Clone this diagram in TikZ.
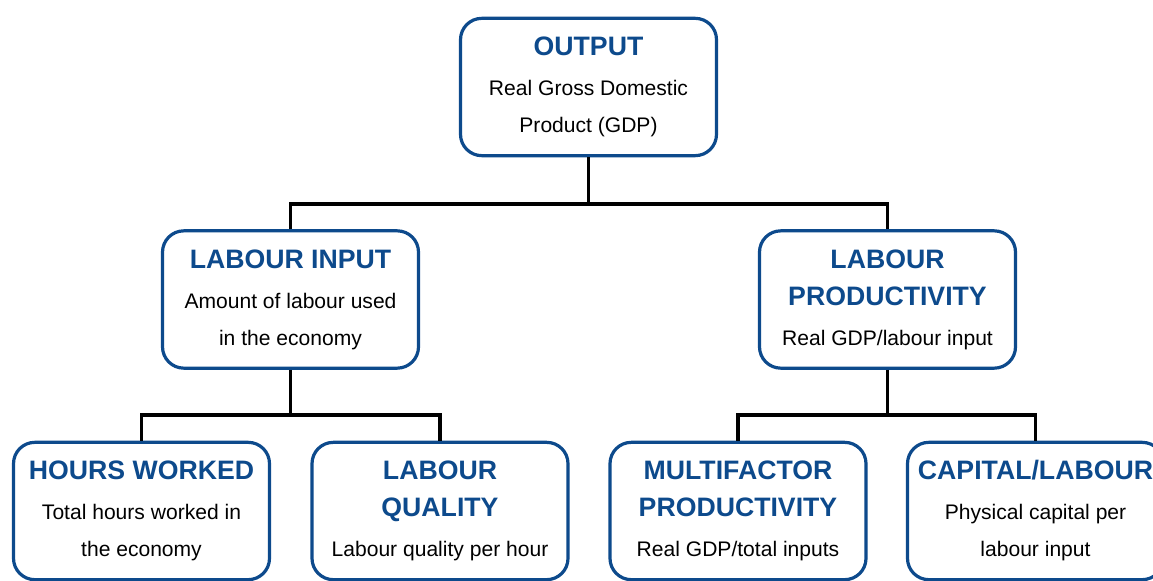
\documentclass[tikz,border=0pt]{standalone}
\usepackage{fontspec}
\setmainfont{Liberation Sans}
\definecolor{navy}{HTML}{0D4A8C}
\tikzset{
  box/.style={draw=navy, fill=white, line width=2.4pt, rounded corners=16pt,
    minimum width=192pt, minimum height=103pt, align=center, inner sep=0pt,
    font=\fontsize{15.8}{27.75}\selectfont},
  link/.style={draw=black, line width=2.5pt}
}
\newcommand{\ttl}[1]{{\fontsize{20}{27.75}\selectfont\bfseries\color{navy}#1}}
\begin{document}
\begin{tikzpicture}[x=0.75pt,y=-0.75pt]
\useasboundingbox (0,0) rectangle (1153,581);
\clip (0,0) rectangle (1153,581);
\coordinate (j0) at (588.5,204);
\coordinate (j1) at (290.5,415);
\coordinate (j2) at (887.5,415);
\node[box] (out) at (588.5,87) {\ttl{OUTPUT}\\[2.25pt] Real Gross Domestic\\ Product (GDP)};
\node[box] (li) at (290.5,299.5) {\ttl{LABOUR INPUT}\\[2.25pt] Amount of labour used\\ in the economy};
\node[box] (lp) at (887.5,299.5) {\ttl{LABOUR}\\ \ttl{PRODUCTIVITY}\\[2.25pt] Real GDP/labour input};
\node[box] (hw) at (141.5,511) {\ttl{HOURS WORKED}\\[2.25pt] Total hours worked in\\ the economy};
\node[box] (lq) at (440,511) {\ttl{LABOUR}\\ \ttl{QUALITY}\\[2.25pt] Labour quality per hour};
\node[box] (mf) at (738,511) {\ttl{MULTIFACTOR}\\ \ttl{PRODUCTIVITY}\\[2.25pt] Real GDP/total inputs};
\node[box] (cl) at (1035.5,511) {\ttl{CAPITAL/LABOUR}\\[2.25pt] Physical capital per\\ labour input};
\draw[link] (out.south) -- (j0);
\draw[link] (li.north) |- (j0) -| (lp.north);
\draw[link] (li.south) -- (j1);
\draw[link] (hw.north) |- (j1) -| (lq.north);
\draw[link] (lp.south) -- (j2);
\draw[link] (mf.north) |- (j2) -| (cl.north);
\end{tikzpicture}
\end{document}
